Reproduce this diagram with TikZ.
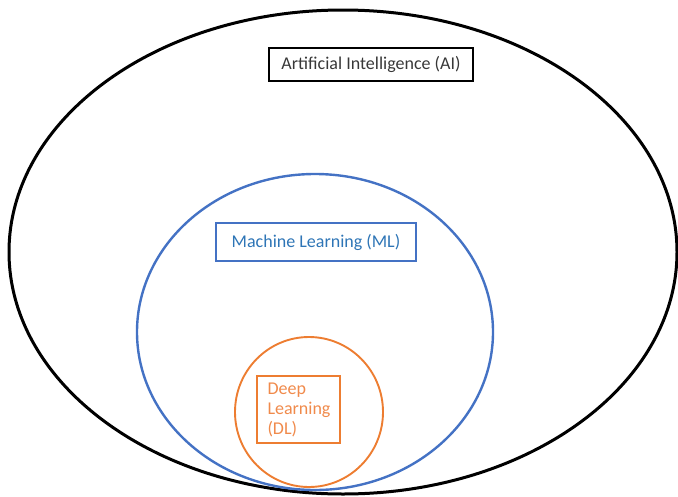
\documentclass[tikz,border=0pt]{standalone}
\usepackage{fontspec}
\setmainfont{Carlito}
\definecolor{aiblack}{HTML}{000000}
\definecolor{aitext}{HTML}{383838}
\definecolor{mlblue}{HTML}{4472C4}
\definecolor{mltext}{HTML}{2E75B6}
\definecolor{dlorange}{HTML}{ED7D31}
\definecolor{dltext}{HTML}{F08A4B}

\begin{document}
\begin{tikzpicture}[x=1pt,y=-1pt,
  label box/.style={draw,inner sep=0pt,font=\fontsize{18}{20}\selectfont}]
\useasboundingbox (0,0) rectangle (678,496);
% the three sets
\draw [aiblack,line width=3pt] (343,252) ellipse [x radius=334pt,y radius=242pt];
\draw [mlblue,line width=2.4pt] (315,332) ellipse [x radius=178pt,y radius=158pt];
\draw [dlorange,line width=1.9pt] (309,412) ellipse [x radius=74pt,y radius=75pt];
% their names
\node [label box,line width=2.6pt,text=aitext,minimum width=204pt,minimum height=33pt] (ai) at (371,64.5) {Artificial Intelligence (AI)};
\node [label box,mlblue,line width=2.8pt,text=mltext,minimum width=200pt,minimum height=38pt] (ml) at (316,242) {Machine Learning (ML)};
\node [label box,dlorange,line width=2.8pt,text=dltext,minimum width=83pt,minimum height=67pt,text width=62pt,align=left] (dl) at (298.5,409.5) {Deep\\Learning\\(DL)};
\end{tikzpicture}
\end{document}
